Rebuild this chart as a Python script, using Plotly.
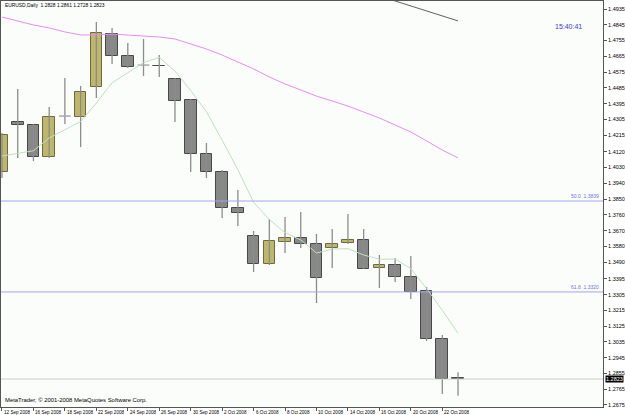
import plotly.graph_objects as go

# ---------------- data ----------------
dates = ["12 Sep 2008", "15 Sep 2008", "16 Sep 2008", "17 Sep 2008", "18 Sep 2008",
         "19 Sep 2008", "22 Sep 2008", "23 Sep 2008", "24 Sep 2008", "25 Sep 2008",
         "26 Sep 2008", "29 Sep 2008", "30 Sep 2008", "1 Oct 2008", "2 Oct 2008",
         "3 Oct 2008", "6 Oct 2008", "7 Oct 2008", "8 Oct 2008", "9 Oct 2008",
         "10 Oct 2008", "13 Oct 2008", "14 Oct 2008", "15 Oct 2008", "16 Oct 2008",
         "17 Oct 2008", "20 Oct 2008", "21 Oct 2008", "22 Oct 2008", "23 Oct 2008"]

opens = [1.4005, 1.4290, 1.4273, 1.4090, 1.4324, 1.4319, 1.4490, 1.4792, 1.4667, 1.4615,
         1.4612, 1.4535, 1.4416, 1.4107, 1.4005, 1.3799, 1.3639, 1.3479, 1.3605, 1.3628,
         1.3594, 1.3571, 1.3599, 1.3617, 1.3457, 1.3474, 1.3405, 1.3325, 1.3051, 1.2828]
highs = [1.4227, 1.4478, 1.4279, 1.4376, 1.4541, 1.4496, 1.4861, 1.4827, 1.4741, 1.4764,
         1.4672, 1.4541, 1.4421, 1.4170, 1.4016, 1.3902, 1.3668, 1.3736, 1.3748, 1.3776,
         1.3651, 1.3679, 1.3765, 1.3679, 1.3531, 1.3514, 1.3525, 1.3348, 1.3074, 1.2861]
lows = [1.3970, 1.4085, 1.4067, 1.4085, 1.4279, 1.4147, 1.4427, 1.4621, 1.4598, 1.4553,
        1.4547, 1.4290, 1.4005, 1.3970, 1.3742, 1.3696, 1.3434, 1.3474, 1.3542, 1.3571,
        1.3257, 1.3457, 1.3594, 1.3451, 1.3343, 1.3377, 1.3280, 1.3040, 1.2738, 1.2728]
closes = [1.4216, 1.4273, 1.4090, 1.4319, 1.4324, 1.4461, 1.4798, 1.4667, 1.4604, 1.4615,
          1.4608, 1.4410, 1.4107, 1.4005, 1.3799, 1.3771, 1.3479, 1.3611, 1.3628, 1.3594,
          1.3400, 1.3594, 1.3617, 1.3451, 1.3474, 1.3405, 1.3320, 1.3051, 1.2823, 1.2823]

ma_fast = [1.4096, 1.4113, 1.4126, 1.4199, 1.4244, 1.4293, 1.4398, 1.4514, 1.4571, 1.4629,
           1.4658, 1.4581, 1.4469, 1.4349, 1.4186, 1.4018, 1.3832, 1.3733, 1.3658, 1.3617,
           1.3542, 1.3565, 1.3567, 1.3531, 1.3507, 1.3508, 1.3453, 1.3340, 1.3215, 1.3084]
ma_slow = [1.4889, 1.4867, 1.4844, 1.4827, 1.4804, 1.4787, 1.4787, 1.4792, 1.4787, 1.4781,
           1.4775, 1.4764, 1.4735, 1.4707, 1.4672, 1.4633, 1.4593, 1.4547, 1.4507, 1.4473,
           1.4438, 1.4410, 1.4381, 1.4347, 1.4313, 1.4273, 1.4233, 1.4182, 1.4130, 1.4085]
ma_long = [None] * 23 + [1.5038, 1.5009, 1.4981, 1.4952, 1.4924, 1.4895, 1.4867]

price_ticks = [1.4935, 1.4845, 1.4755, 1.4665, 1.4575, 1.4485, 1.4395, 1.4305, 1.4215,
               1.4120, 1.4030, 1.3940, 1.3850, 1.3760, 1.3670, 1.3580, 1.3490, 1.3395,
               1.3305, 1.3215, 1.3125, 1.3035, 1.2945, 1.2855, 1.2765, 1.2675]
date_tick_labels = ["12 Sep 2008", "16 Sep 2008", "18 Sep 2008", "22 Sep 2008", "24 Sep 2008",
                    "26 Sep 2008", "30 Sep 2008", "2 Oct 2008", "6 Oct 2008", "8 Oct 2008",
                    "10 Oct 2008", "14 Oct 2008", "16 Oct 2008", "20 Oct 2008", "22 Oct 2008"]
date_tick_dates = date_tick_labels

fib_levels = [1.3839, 1.3320]
fib_labels = ["50.0  1.3839", "61.8  1.3320"]
last_price = 1.2823
title_text = "EURUSD,Daily  1.2828 1.2861 1.2728 1.2823"
clock_text = "15:40:41"
copyright_text = "MetaTrader, \u00a9 2001-2008 MetaQuotes Software Corp."

# ---------------- styles ----------------
FONT = "Liberation Sans, Arial, sans-serif"
SMALL = 5.5
DATEF = 4.6
BULL_FILL = "#bdb76b"
BULL_EDGE = "#6e6a40"
BEAR_FILL = "#888888"
BEAR_EDGE = "#484848"
WICK = "#8c8c8c"
AXIS = "#555555"
BODY_W = 0.74

idx = list(range(len(dates)))
tick_pos = [dates.index(d) for d in date_tick_dates]

fig = go.Figure()

# wicks
wx, wy = [], []
for i in idx:
    wx += [i, i, None]
    wy += [lows[i], highs[i], None]
fig.add_trace(go.Scatter(x=wx, y=wy, mode="lines", line=dict(color=WICK, width=1.3),
                         hoverinfo="skip", showlegend=False))

# bodies
bx, bbase, bh, bfill, bedge = [], [], [], [], []
dx, dy = [], []
for i in idx:
    o, c = opens[i], closes[i]
    if o == c:
        dx += [i - BODY_W / 2, i + BODY_W / 2, None]
        dy += [o, o, None]
        continue
    bx.append(i)
    bbase.append(min(o, c))
    bh.append(abs(c - o))
    bfill.append(BULL_FILL if c > o else BEAR_FILL)
    bedge.append(BULL_EDGE if c > o else BEAR_EDGE)
fig.add_trace(go.Bar(x=bx, y=bh, base=bbase, width=BODY_W,
                     marker=dict(color=bfill, line=dict(color=bedge, width=1)),
                     hoverinfo="skip", showlegend=False))
fig.add_trace(go.Scatter(x=dx, y=dy, mode="lines", line=dict(color="#a8a8a8", width=1.5),
                         hoverinfo="skip", showlegend=False))

# moving averages
fig.add_trace(go.Scatter(x=idx, y=ma_fast, mode="lines", line=dict(color="#bfe0bf", width=1),
                         hoverinfo="skip", showlegend=False))
fig.add_trace(go.Scatter(x=idx, y=ma_slow, mode="lines", line=dict(color="#e48ef0", width=1),
                         hoverinfo="skip", showlegend=False))
fig.add_trace(go.Scatter(x=idx, y=ma_long, mode="lines", line=dict(color="#606060", width=1),
                         hoverinfo="skip", showlegend=False, connectgaps=False))

# horizontal lines
for lvl, lab in zip(fib_levels, fib_labels):
    fig.add_hline(y=lvl, line=dict(color="#a4a4ee", width=1))
    fig.add_annotation(text=lab, xref="paper", x=1, xanchor="right", xshift=-2,
                       yref="y", y=lvl, yanchor="bottom", yshift=0, showarrow=False,
                       font=dict(family=FONT, size=5, color="#7070dd"))
fig.add_hline(y=last_price, line=dict(color="#cccccc", width=1))
fig.add_annotation(text=f"{last_price:.4f}", xref="paper", x=1, xanchor="left", xshift=2,
                   yref="y", y=last_price, yanchor="middle", showarrow=False,
                   bgcolor="#000000", borderpad=0,
                   font=dict(family=FONT, size=SMALL, color="#ffffff"))

# texts
fig.add_annotation(text=title_text, xref="paper", x=0.004, xanchor="left",
                   yref="paper", y=0.988, yanchor="middle", showarrow=False,
                   font=dict(family=FONT, size=4.9, color="#000000"))
fig.add_annotation(text=clock_text, xref="paper", x=0.942, xanchor="center",
                   yref="paper", y=0.936, yanchor="middle", showarrow=False,
                   font=dict(family=FONT, size=7, color="#3a3ad0"))
fig.add_annotation(text=copyright_text, xref="paper", x=0.003, xanchor="left",
                   yref="paper", y=0.017, yanchor="middle", showarrow=False,
                   font=dict(family=FONT, size=5.9, color="#000000"))
for p, lab in zip(tick_pos, date_tick_labels):
    fig.add_annotation(text=lab, xref="x", x=p, xanchor="left", xshift=0,
                       yref="paper", y=0, yanchor="top", yshift=-1, showarrow=False,
                       font=dict(family=FONT, size=DATEF, color="#000000"))

fig.update_layout(
    width=625, height=415,
    margin=dict(l=0, r=19, t=1, b=8),
    paper_bgcolor="#ffffff", plot_bgcolor="#fbfdfb",
    bargap=0, showlegend=False,
    font=dict(family=FONT, size=SMALL, color="#000000"),
)
fig.update_xaxes(range=[-0.063, 38.22], showgrid=False, zeroline=False,
                 showline=True, linecolor=AXIS, linewidth=1, mirror=True,
                 tickvals=tick_pos, ticks="outside", ticklen=3, tickcolor=AXIS,
                 showticklabels=False, fixedrange=True)
fig.update_yaxes(range=[1.26633, 1.49807], side="right", showgrid=False, zeroline=False,
                 showline=True, linecolor=AXIS, linewidth=1, mirror=True,
                 tickvals=price_ticks, ticktext=[f"{v:.4f}" for v in price_ticks],
                 ticks="outside", ticklen=3, tickcolor=AXIS,
                 tickfont=dict(family=FONT, size=SMALL, color="#000000"), fixedrange=True)

fig.write_html("out.html")
